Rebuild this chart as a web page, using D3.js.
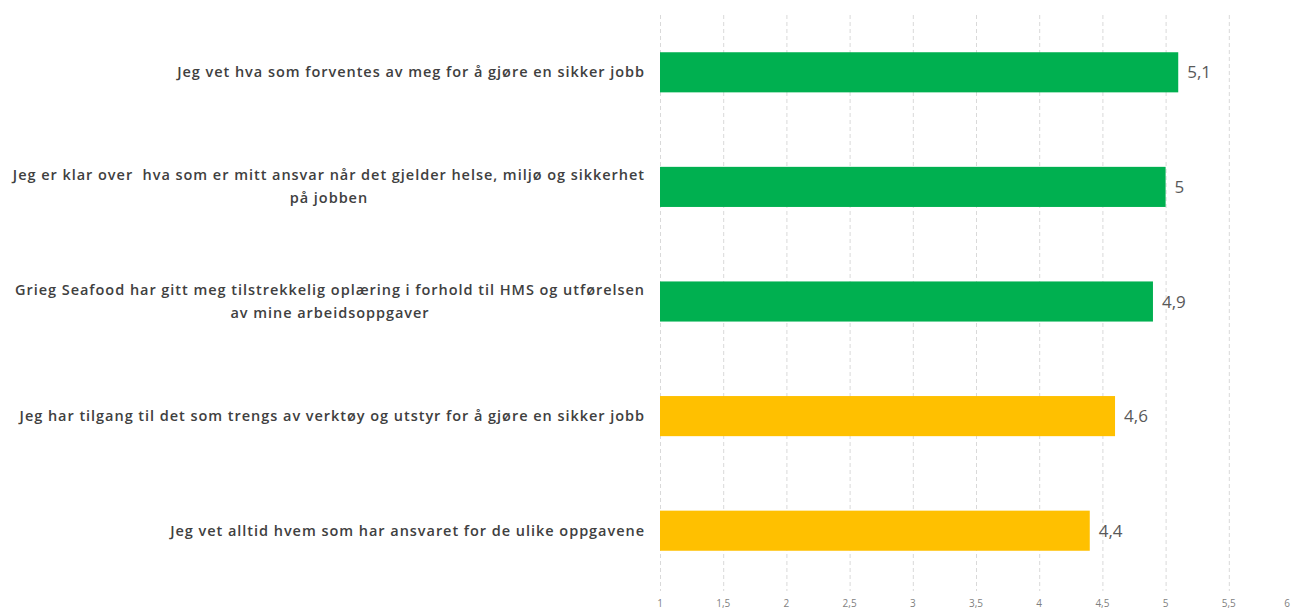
<!DOCTYPE html>
<html>
<head>
<meta charset="utf-8">
<script src="https://cdn.jsdelivr.net/npm/d3@7"></script>
<style>
  body { margin: 0; background: #fff; }
  svg { display: block; }
  .cat { white-space: pre; }
</style>
</head>
<body>
<svg width="1291" height="609"></svg>
<script>
// survey questions, top to bottom
let questions = [
  ["Jeg vet hva som forventes av meg for å gjøre en sikker jobb"],
  ["Jeg er klar over  hva som er mitt ansvar når det gjelder helse, miljø og sikkerhet", "på jobben"],
  ["Grieg Seafood har gitt meg tilstrekkelig oplæring i forhold til HMS og utførelsen", "av mine arbeidsoppgaver"],
  ["Jeg har tilgang til det som trengs av verktøy og utstyr for å gjøre en sikker jobb"],
  ["Jeg vet alltid hvem som har ansvaret for de ulike oppgavene"]
];
let scores = [5.1, 5.0, 4.9, 4.6, 4.4];
let barColors = ["#00b050", "#00b050", "#00b050", "#ffc000", "#ffc000"];
let ticks = [1, 1.5, 2, 2.5, 3, 3.5, 4, 4.5, 5, 5.5, 6];

var svg = d3.select("svg"),
    width = +svg.attr("width"),
    height = +svg.attr("height");

var x = d3.scaleLinear().domain([1, 6]).range([660, 1292]);
var y = d3.scaleBand()
    .domain(d3.range(questions.length))
    .range([15, 588])
    .paddingInner(0.65)
    .paddingOuter(0.325);

var fmt = d => String(d).replace(".", ",");

// gridlines
svg.append("g")
    .selectAll("line")
    .data(ticks)
    .enter().append("line")
    .attr("x1", d => x(d) + 0.5)
    .attr("x2", d => x(d) + 0.5)
    .attr("y1", 15)
    .attr("y2", 591)
    .attr("stroke", "#d9d9d9")
    .attr("stroke-dasharray", "4,3");

// tick labels, low on the page like the source; last one kept inside the edge
svg.append("g")
    .selectAll("text")
    .data(ticks)
    .enter().append("text")
    .attr("x", d => Math.min(x(d), width - 1))
    .attr("y", 607)
    .attr("text-anchor", d => x(d) >= width - 1 ? "end" : "middle")
    .attr("font-family", "Open Sans")
    .attr("font-size", 10)
    .attr("fill", "#7f7f7f")
    .text(d => fmt(d));

// bars
svg.append("g")
    .selectAll("rect")
    .data(scores)
    .enter().append("rect")
    .attr("x", x(1))
    .attr("y", (d, i) => y(i))
    .attr("width", d => x(d) - x(1))
    .attr("height", y.bandwidth())
    .attr("fill", (d, i) => barColors[i]);

// value labels
svg.append("g")
    .selectAll("text")
    .data(scores)
    .enter().append("text")
    .attr("x", d => x(d) + 9)
    .attr("y", (d, i) => y(i) + y.bandwidth() / 2)
    .attr("dy", "0.36em")
    .attr("font-family", "Open Sans")
    .attr("font-size", 17)
    .attr("fill", "#595959")
    .text(d => fmt(d));

// category labels, each block right aligned, lines centred within the block
var labelRight = 645, lineH = 23;
var groups = svg.append("g")
    .selectAll("g")
    .data(questions)
    .enter().append("g");

groups.each(function(lines, i) {
  var g = d3.select(this);
  var cy = y(i) + y.bandwidth() / 2;
  var texts = g.selectAll("text")
      .data(lines)
      .enter().append("text")
      .attr("class", "cat")
      .attr("y", (d, j) => cy + (j - (lines.length - 1) / 2) * lineH)
      .attr("dy", "0.35em")
      .attr("text-anchor", "middle")
      .attr("font-family", "Open Sans")
      .attr("font-weight", 600)
      .attr("font-size", 14.5)
      .attr("letter-spacing", 0.96)
      .attr("fill", "#404040")
      .text(d => d);
  var w = d3.max(texts.nodes(), n => n.getComputedTextLength());
  texts.attr("x", labelRight - w / 2);
});
</script>
</body>
</html>
